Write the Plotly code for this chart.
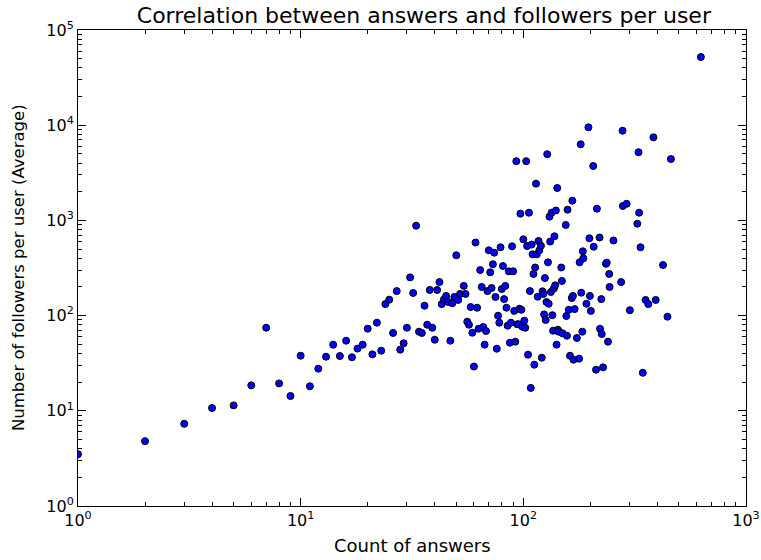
import plotly.graph_objects as go

# Count of answers per user (x) and the average followers of users with that count (y)
answers = [
    1, 2, 3, 4, 5, 6, 7, 8, 9, 10, 11, 12, 13, 14, 15, 16, 17, 18, 19, 20,
    21, 22, 23, 24, 25, 26, 27, 28, 29, 30, 31, 32, 33, 34, 35, 36, 37, 38, 39, 40,
    41, 42, 43, 44, 45, 46, 47, 48, 49, 50, 51, 52, 54, 55, 56, 57, 58, 59, 60, 61,
    62, 63, 64, 65, 66, 67, 68, 69, 70, 71, 72, 73, 74, 75, 76, 77, 78, 79, 80, 81,
    82, 83, 84, 85, 86, 87, 88, 89, 90, 91, 92, 93, 94, 95, 96, 97, 98, 99, 100, 101,
    102, 103, 104, 105, 106, 107, 108, 109, 110, 111, 112, 113, 114, 115, 116, 117, 118, 120, 121, 122,
    123, 124, 125, 126, 127, 128, 129, 130, 131, 132, 133, 134, 135, 136, 137, 138, 139, 140, 141, 142,
    143, 144, 148, 149, 150, 155, 156, 157, 158, 160, 162, 165, 166, 167, 168, 170, 174, 178, 179, 181,
    182, 184, 185, 186, 192, 196, 198, 199, 201, 206, 207, 212, 214, 220, 221, 224, 225, 228, 235, 237,
    240, 243, 244, 254, 275, 279, 280, 291, 301, 325, 329, 331, 336, 344, 354, 364, 384, 393, 424, 444,
    460, 627,
]
followers = [
    3.5, 4.8, 7.3, 10.7, 11.4, 18.5, 74.6, 19.4, 14.3, 37.9, 18.1, 27.7, 37, 49.5, 37.6, 54.5, 36.5, 45, 49.5, 72.9,
    39.2, 84.3, 42.8, 132, 147, 65.7, 181, 43.9, 51.2, 74.6, 252, 173, 880, 67.8, 65.7, 127, 80.2, 186, 74.6, 55.8,
    186, 225, 132, 148, 161, 139, 54.5, 135, 157, 430, 146, 169, 205, 169, 86.3, 80.2, 123, 66.1, 29.2, 586,
    121, 72.8, 301, 200, 75.9, 49.5, 68.9, 181, 485, 285, 195, 346, 458, 157, 44.9, 99.8, 84.2, 522, 190, 332,
    149, 205, 121, 78.3, 292, 51.9, 84.2, 534, 292, 112, 53.2, 4188, 81.1, 81.1, 118, 1176, 115, 76.4, 633, 88.4,
    74.6, 4188, 538, 38.9, 1205, 181, 17.4, 558, 440, 274, 30.5, 320, 2430, 440, 158, 608, 485, 542, 36.1, 180,
    169, 103, 248, 89.9, 139, 4958, 363, 133, 1094, 600, 177, 1205, 101, 69.4, 192, 681, 208, 1271, 49.5, 2190,
    71.1, 67.8, 320, 231, 65.2, 895, 99, 61.5, 1295, 115, 37.9, 153, 1611, 161, 34.4, 117, 58.2, 35.3, 363, 6300,
    174, 67.8, 474, 400, 133, 9500, 649, 161, 112, 3727, 529, 27.0, 1327, 661, 72.8, 149, 64.1, 28.6, 350, 360,
    53.2, 274, 200, 615, 225, 8750, 1417, 1494, 114, 923, 5205, 1205, 522, 25.1, 146, 132, 7465, 146, 340, 97.4,
    4415, 52000,
]

x_tick_vals = [1, 10, 100, 1000]
x_tick_text = ["10<sup>0</sup>", "10<sup>1</sup>", "10<sup>2</sup>", "10<sup>3</sup>"]
y_tick_vals = [1, 10, 100, 1000, 10000, 100000]
y_tick_text = ["10<sup>0</sup>", "10<sup>1</sup>", "10<sup>2</sup>", "10<sup>3</sup>",
               "10<sup>4</sup>", "10<sup>5</sup>"]

title_text = "Correlation between answers and followers per user"
x_label = "Count of answers"
y_label = "Number of followers per user (Average)"

FONT = "DejaVu Sans"


def minor_vals(decades):
    vals = []
    for d in range(decades):
        for m in range(2, 10):
            vals.append(m * 10 ** d)
    return vals


fig = go.Figure(
    go.Scatter(
        x=answers,
        y=followers,
        mode="markers",
        marker=dict(color="#0000ff", size=7, line=dict(color="black", width=1)),
        cliponaxis=True,
        hoverinfo="x+y",
    )
)

axis_common = dict(
    type="log",
    automargin=False,
    showgrid=False,
    zeroline=False,
    showline=True,
    linecolor="black",
    linewidth=1,
    mirror="allticks",
    ticks="inside",
    ticklen=8,
    tickwidth=1,
    tickcolor="black",
    tickmode="array",
    tickfont=dict(family=FONT, size=16, color="black"),
)

fig.update_xaxes(
    **axis_common,
    range=[0, 3],
    tickvals=x_tick_vals,
    ticktext=x_tick_text,
    minor=dict(ticks="inside", ticklen=4, tickcolor="black", tickwidth=1,
               tickmode="array", tickvals=minor_vals(3), showgrid=False),
)
fig.update_yaxes(
    **axis_common,
    range=[0, 5],
    tickvals=y_tick_vals,
    ticktext=y_tick_text,
    minor=dict(ticks="inside", ticklen=4, tickcolor="black", tickwidth=1,
               tickmode="array", tickvals=minor_vals(5), showgrid=False),
)

fig.update_layout(
    width=761,
    height=560,
    margin=dict(l=78, r=15, t=30, b=54),
    paper_bgcolor="white",
    plot_bgcolor="white",
    showlegend=False,
    font=dict(family=FONT, color="black"),
    title=dict(text=title_text, x=0.557, xanchor="center", y=1 - 15 / 560,
               yanchor="middle", yref="container", font=dict(family=FONT, size=22)),
    annotations=[
        dict(text=x_label, xref="paper", yref="paper", x=0.5, y=-0.084,
             xanchor="center", yanchor="middle", showarrow=False,
             font=dict(family=FONT, size=18)),
        dict(text=y_label, xref="paper", yref="paper", x=(18 - 78) / 668, y=0.5,
             xanchor="center", yanchor="middle", textangle=-90, showarrow=False,
             font=dict(family=FONT, size=16.5)),
    ],
)

fig.write_html("out.html")
